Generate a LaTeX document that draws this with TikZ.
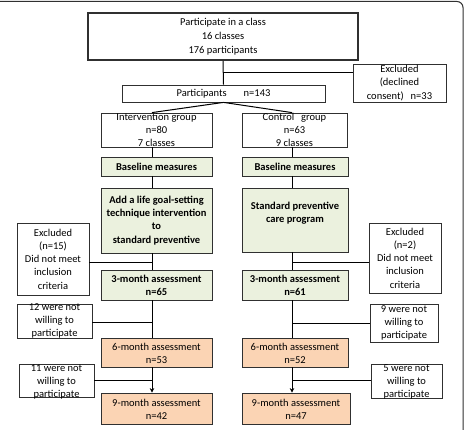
\documentclass[tikz,border=0pt]{standalone}
\usepackage{fontspec}
\setmainfont{Carlito}
\usetikzlibrary{arrows.meta}
\definecolor{boxgreen}{HTML}{EBF1DE}
\definecolor{boxorange}{HTML}{FBD4B4}
\definecolor{edgecol}{HTML}{303030}
\begin{document}
\begin{tikzpicture}[x=1pt,y=-1pt,
  bx/.style={draw=edgecol, line width=0.8pt, inner sep=0pt},
  grn/.style={bx, fill=boxgreen},
  org/.style={bx, fill=boxorange},
  txt/.style={font=\fontsize{10.5}{13.2}\selectfont, align=center, inner sep=0pt},
  btxt/.style={txt, font=\fontsize{10.5}{13.2}\selectfont\bfseries},
  conn/.style={draw=black, line width=1pt},
  arr/.style={conn, -{Stealth[length=4.5pt,width=4.5pt]}},
  frame/.style={draw=edgecol, line width=1pt, rounded corners=6pt}]
\useasboundingbox (0,0) rectangle (465,430);
\draw[frame] (0,1.5) -- (463,1.5) -- (463,432);

% top part
\node[bx, line width=1.6pt, minimum width=270pt, minimum height=47pt,
  label={[txt, font=\fontsize{10.5}{14}\selectfont]center:{Participate in a class\\16 classes\\176 participants}}] (top) at (223,36.5) {};
\node[bx, minimum width=93pt, minimum height=38pt,
  label={[txt]center:{Excluded\\(declined\\consent)\hspace{7pt}n=33}}] (exT) at (399.5,83) {};
\node[bx, minimum width=203pt, minimum height=17pt,
  label={[txt]center:{Participants\hspace{17pt}n=143}}] (part) at (223.5,93.5) {};

% groups
\node[bx, minimum width=111pt, minimum height=34pt,
  label={[txt]center:{Intervention group\\n=80\\7 classes}}] (int) at (156.5,130) {};
\node[bx, minimum width=105pt, minimum height=34pt,
  label={[txt]center:{Control\hspace{7pt}group\\n=63\\9 classes}}] (ctl) at (294.5,130) {};

\node[grn, minimum width=111pt, minimum height=19pt,
  label={[btxt]center:{Baseline measures}}] (baseL) at (156.5,166.5) {};
\node[grn, minimum width=106pt, minimum height=19pt,
  label={[btxt]center:{Baseline measures}}] (baseR) at (295,166.5) {};

\node[grn, minimum width=111pt, minimum height=65pt,
  label={[btxt]center:{Add a life goal-setting\\technique intervention\\to\\standard preventive}}] (trtL) at (156.5,220.5) {};
\node[grn, minimum width=106pt, minimum height=64pt,
  label={[btxt, yshift=6.5pt]center:{Standard preventive\\care program}}] (trtR) at (295,220) {};

\node[bx, minimum width=72pt, minimum height=72pt,
  label={[txt]center:{Excluded\\(n=15)\\Did not meet\\inclusion\\criteria}}] (exL) at (53,259) {};
\node[bx, minimum width=72pt, minimum height=70pt,
  label={[txt]center:{Excluded\\(n=2)\\Did not meet\\inclusion\\criteria}}] (exR) at (405,258) {};

\node[grn, minimum width=111pt, minimum height=30pt,
  label={[btxt]center:{3-month assessment\\n=65}}] (m3L) at (156.5,285) {};
\node[grn, minimum width=106pt, minimum height=30pt,
  label={[btxt]center:{3-month assessment\\n=61}}] (m3R) at (295,285) {};

\node[bx, minimum width=75pt, minimum height=34pt,
  label={[txt]center:{12 were not\\willing to\\participate}}] (w12) at (54.5,321) {};
\node[bx, minimum width=68pt, minimum height=38pt,
  label={[txt]center:{9 were not\\willing to\\participate}}] (w9) at (404,323) {};

\node[org, minimum width=111pt, minimum height=29pt,
  label={[txt, yshift=-1pt]center:{6-month assessment\\n=53}}] (m6L) at (156.5,352.5) {};
\node[org, minimum width=106pt, minimum height=29pt,
  label={[txt, yshift=-1pt]center:{6-month assessment\\n=52}}] (m6R) at (295,352.5) {};

\node[bx, minimum width=75pt, minimum height=33pt,
  label={[txt, yshift=-1.5pt]center:{11 were not\\willing to\\participate}}] (w11) at (56.5,380.5) {};
\node[bx, minimum width=71pt, minimum height=34pt,
  label={[txt, yshift=-1pt]center:{5 were not\\willing to\\participate}}] (w5) at (406.5,381) {};

\node[org, minimum width=111pt, minimum height=31pt,
  label={[txt, yshift=-1pt]center:{9-month assessment\\n=42}}] (m9L) at (156.5,408.5) {};
\node[org, minimum width=108pt, minimum height=31pt,
  label={[txt, yshift=-1pt]center:{9-month assessment\\n=47}}] (m9R) at (296,408.5) {};

% column coordinates
\coordinate (cL) at (152,0);
\coordinate (cR) at (292,0);

% connectors top
\draw[conn] (top.south) -- (part.north);
\coordinate (jA) at (223,73);
\draw[conn] (jA) -- (jA -| exT.west);
\draw[conn] (part.south) -- (int.north -| cL);
\draw[conn] (part.south) -- (ctl.north -| cR);

% left column
\draw[conn] (int.south -| cL) -- (baseL.north -| cL);
\draw[conn] (baseL.south -| cL) -- (trtL.north -| cL);
\draw[conn] (trtL.south -| cL) -- (m3L.north -| cL);
\draw[conn] (m3L.south -| cL) -- (m6L.north -| cL);
\draw[arr] (m6L.south -| cL) -- (m9L.north -| cL);

% right column
\draw[conn] (ctl.south -| cR) -- (baseR.north -| cR);
\draw[conn] (baseR.south -| cR) -- (trtR.north -| cR);
\draw[conn] (trtR.south -| cR) -- (m3R.north -| cR);
\draw[conn] (m3R.south -| cR) -- (m6R.north -| cR);
\draw[arr] (m6R.south -| cR) -- (m9R.north -| cR);

% side branches
\coordinate (jL1) at (152,262);
\coordinate (jL2) at (152,322);
\coordinate (jL3) at (152,380);
\coordinate (jR1) at (292,262);
\coordinate (jR2) at (292,323);
\coordinate (jR3) at (292,380);
\draw[conn] (jL1 -| exL.east) -- (jL1);
\draw[conn] (jL2 -| w12.east) -- (jL2);
\draw[conn] (jL3 -| w11.east) -- (jL3);
\draw[conn] (jR1) -- (jR1 -| exR.west);
\draw[conn] (jR2) -- (jR2 -| w9.west);
\draw[conn] (jR3) -- (jR3 -| w5.west);
\end{tikzpicture}
\end{document}
